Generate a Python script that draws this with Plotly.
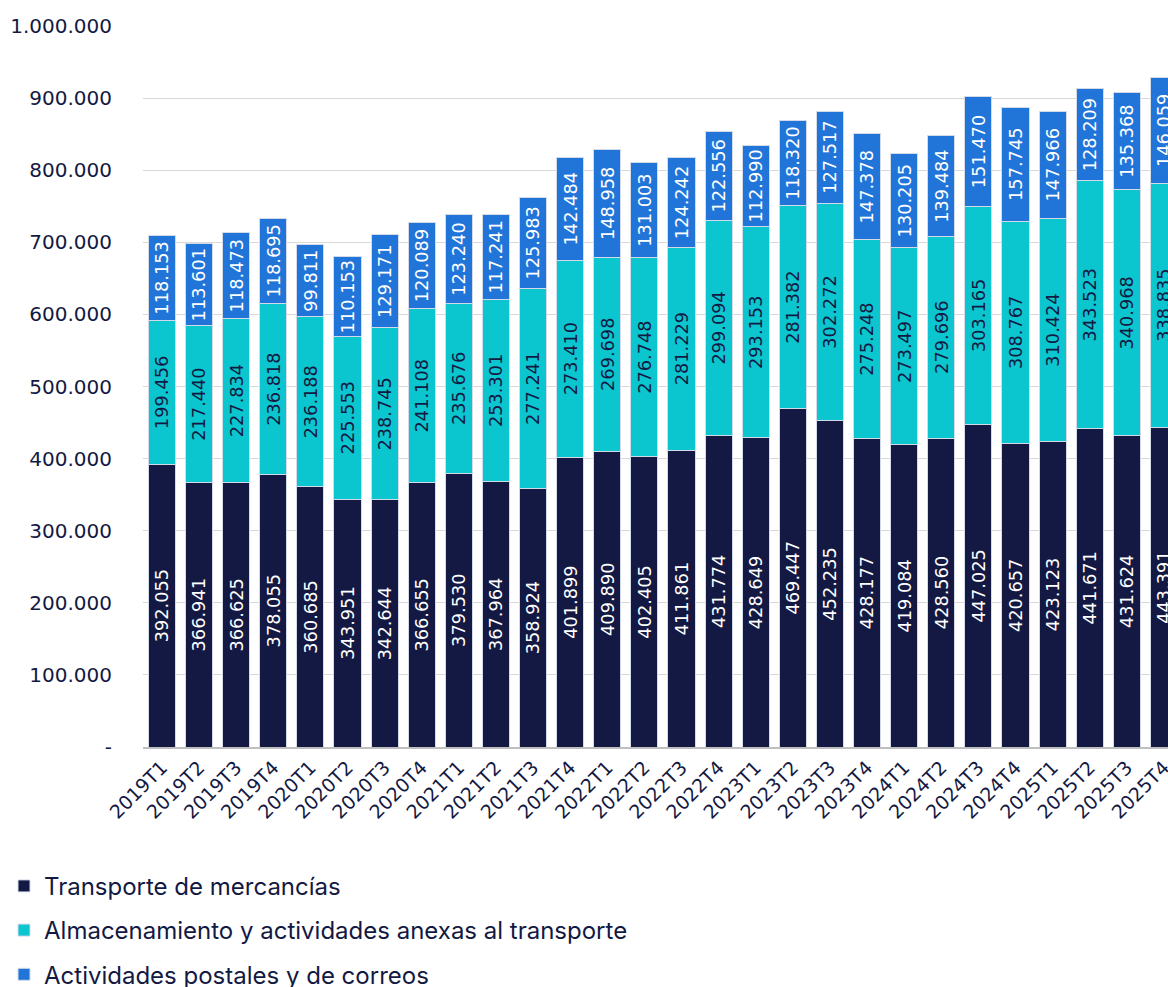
import plotly.graph_objects as go

categories = ["2019T1", "2019T2", "2019T3", "2019T4",
              "2020T1", "2020T2", "2020T3", "2020T4",
              "2021T1", "2021T2", "2021T3", "2021T4",
              "2022T1", "2022T2", "2022T3", "2022T4",
              "2023T1", "2023T2", "2023T3", "2023T4",
              "2024T1", "2024T2", "2024T3", "2024T4",
              "2025T1", "2025T2", "2025T3", "2025T4"]

transporte = [392055, 366941, 366625, 378055,
              360685, 343951, 342644, 366655,
              379530, 367964, 358924, 401899,
              409890, 402405, 411861, 431774,
              428649, 469447, 452235, 428177,
              419084, 428560, 447025, 420657,
              423123, 441671, 431624, 443391]

almacenamiento = [199456, 217440, 227834, 236818,
                  236188, 225553, 238745, 241108,
                  235676, 253301, 277241, 273410,
                  269698, 276748, 281229, 299094,
                  293153, 281382, 302272, 275248,
                  273497, 279696, 303165, 308767,
                  310424, 343523, 340968, 338835]

postales = [118153, 113601, 118473, 118695,
            99811, 110153, 129171, 120089,
            123240, 117241, 125983, 142484,
            148958, 131003, 124242, 122556,
            112990, 118320, 127517, 147378,
            130205, 139484, 151470, 157745,
            147966, 128209, 135368, 146059]

series_names = ["Transporte de mercancías",
                "Almacenamiento y actividades anexas al transporte",
                "Actividades postales y de correos"]

y_tickvals = [0, 100000, 200000, 300000, 400000, 500000, 600000, 700000, 800000, 900000, 1000000]
y_ticktext = ["-", "100.000", "200.000", "300.000", "400.000", "500.000",
              "600.000", "700.000", "800.000", "900.000", "1.000.000"]

colors = ["#131942", "#0bc5cf", "#2175d9"]
text_colors = ["#ffffff", "#131942", "#ffffff"]

fig = go.Figure()
for i, (name, vals) in enumerate(zip(series_names, [transporte, almacenamiento, postales])):
    fig.add_trace(go.Bar(
        x=categories, y=vals, name=name,
        marker=dict(color=colors[i], line=dict(color="#d3dbe8", width=1)),
        texttemplate="%{y:,.0f}",
        textposition="inside",
        insidetextanchor="middle",
        textangle=-90,
        textfont=dict(family="DejaVu Sans", size=18, color=text_colors[i]),
        legendgroup=f"g{i}",
        hoverinfo="x+y+name",
    ))

fig.update_layout(
    barmode="stack",
    bargap=0.27,
    width=1168, height=987,
    margin=dict(l=143, r=0, t=26, b=240, autoexpand=False),
    paper_bgcolor="white", plot_bgcolor="white",
    separators=",.",
    uniformtext=dict(minsize=16, mode="show"),
    legend=dict(
        orientation="v", x=-0.1356, xanchor="left", y=-0.162, yanchor="top",
        font=dict(family="Inter", size=24, color="#131942"),
        traceorder="grouped", tracegroupgap=10,
        itemwidth=30,
    ),
    xaxis=dict(
        range=[-0.51, 27.11],
        tickangle=-45,
        tickfont=dict(family="DejaVu Sans", size=19, color="#131942"),
        showgrid=False,
        showline=True, linecolor="#bfbfbf", linewidth=2,
        ticks="",
    ),
    yaxis=dict(
        range=[0, 1000000],
        tickvals=y_tickvals, ticktext=y_ticktext,
        tickfont=dict(family="DejaVu Sans", size=20, color="#131942"),
        showgrid=True, gridcolor="#d9d9d9", gridwidth=1,
        zeroline=False,
        ticklabelstandoff=30,
    ),
)

fig.write_html(
    "out.html",
    config={"displayModeBar": False},
    post_script="document.body.style.margin='0';document.body.style.padding='0';document.body.style.overflow='hidden';",
)
